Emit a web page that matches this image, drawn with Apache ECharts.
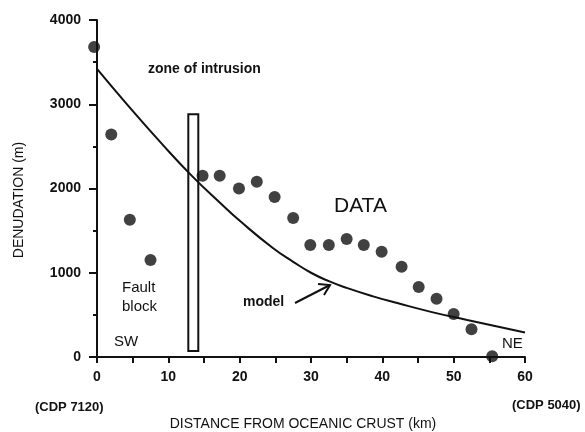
<!DOCTYPE html>
<html>
<head>
<meta charset="utf-8">
<script src="https://cdn.jsdelivr.net/npm/echarts@6/dist/echarts.min.js"></script>
<style>
  html, body { margin: 0; padding: 0; background: #fff; }
  #chart { width: 585px; height: 432px; }
</style>
</head>
<body>
<div id="chart"></div>
<script>
  // measured points (distance km, denudation m)
  var dataX = [-0.4, 2.0, 4.6, 7.5, 14.8, 17.2, 19.9, 22.4, 24.9, 27.5, 29.9, 32.5, 35.0, 37.4, 39.9, 42.7, 45.1, 47.6, 50.0, 52.5, 55.4];
  var dataY = [3680, 2640, 1630, 1150, 2150, 2150, 2000, 2080, 1900, 1650, 1330, 1330, 1400, 1330, 1250, 1070, 830, 690, 510, 330, 10];

  // model curve
  var modelX = [0, 4.3, 9.1, 13.3, 17.5, 20.1, 24.7, 27.5, 30, 32.5, 35, 38.7, 42.1, 47.1, 51.9, 60];
  var modelY = [3420, 2990, 2530, 2150, 1810, 1610, 1290, 1130, 1000, 900, 820, 720, 640, 530, 440, 290];

  // zone of intrusion box: x from, x to, y from, y to
  var intrusionBox = [12.8, 14.2, 70, 2880];

  var xTicks = [0, 10, 20, 30, 40, 50, 60];
  var yTicks = [0, 1000, 2000, 3000, 4000];

  var font = "'Liberation Sans', Arial, Helvetica, sans-serif";

  var points = dataX.map(function (x, i) { return [x, dataY[i]]; });
  var model = modelX.map(function (x, i) { return [x, modelY[i]]; });

  var myChart = echarts.init(document.getElementById('chart'), null, { renderer: 'canvas' });

  var option = {
      backgroundColor: '#fff',
      animation: false,
      grid: {
          left: 97,
          right: 60,
          top: 20,
          bottom: 75,
          outerBoundsMode: 'none'
      },
      xAxis: {
          type: 'value',
          min: xTicks[0],
          max: xTicks[xTicks.length - 1],
          interval: 10,
          axisLine: { lineStyle: { color: '#111', width: 2 } },
          axisTick: { show: true, length: 6, lineStyle: { color: '#111', width: 2 } },
          minorTick: { show: true, splitNumber: 2, length: 6, lineStyle: { color: '#111', width: 2 } },
          splitLine: { show: false },
          axisLabel: {
              margin: 13,
              color: '#111',
              fontSize: 14,
              fontWeight: 'bold',
              fontFamily: font
          }
      },
      yAxis: {
          type: 'value',
          min: yTicks[0],
          max: yTicks[yTicks.length - 1],
          interval: 1000,
          axisLine: { lineStyle: { color: '#111', width: 2 } },
          axisTick: { show: true, length: 8, lineStyle: { color: '#111', width: 2 } },
          minorTick: { show: true, splitNumber: 2, length: 4, lineStyle: { color: '#111', width: 2 } },
          splitLine: { show: false },
          axisLabel: {
              margin: 16,
              color: '#111',
              fontSize: 14,
              fontWeight: 'bold',
              fontFamily: font,
              formatter: function (v) { return String(v); }
          }
      },
      series: [{
          name: 'model',
          type: 'line',
          data: model,
          smooth: 0.5,
          showSymbol: false,
          lineStyle: { color: '#111', width: 2 },
          z: 2,
          markArea: {
              silent: true,
              itemStyle: { color: 'rgba(0,0,0,0)', borderColor: '#111', borderWidth: 2 },
              data: [[
                  { coord: [intrusionBox[0], intrusionBox[2]] },
                  { coord: [intrusionBox[1], intrusionBox[3]] }
              ]]
          }
      }, {
          name: 'DATA',
          type: 'scatter',
          data: points,
          symbol: 'circle',
          symbolSize: 12,
          clip: false,
          itemStyle: { color: '#111' },
          z: 3
      }],
      graphic: [
          { type: 'text', left: 148, top: 62, style: { text: 'zone of intrusion', font: 'bold 14px ' + font, fill: '#111' } },
          { type: 'text', left: 334, top: 196, style: { text: 'DATA', font: '21px ' + font, fill: '#111' } },
          { type: 'text', left: 122, top: 280, style: { text: 'Fault', font: '15px ' + font, fill: '#111' } },
          { type: 'text', left: 122, top: 299, style: { text: 'block', font: '15px ' + font, fill: '#111' } },
          { type: 'text', left: 114, top: 334, style: { text: 'SW', font: '15px ' + font, fill: '#111' } },
          { type: 'text', left: 502, top: 336, style: { text: 'NE', font: '15px ' + font, fill: '#111' } },
          { type: 'text', left: 243, top: 295, style: { text: 'model', font: 'bold 14px ' + font, fill: '#111' } },
          { type: 'polyline', shape: { points: [[295, 303], [330, 285]] }, style: { stroke: '#111', lineWidth: 2, fill: null } },
          { type: 'polyline', shape: { points: [[318, 284], [330, 285], [324, 295]] }, style: { stroke: '#111', lineWidth: 2, fill: null } },
          { type: 'text', left: 35, top: 401, style: { text: '(CDP 7120)', font: 'bold 13px ' + font, fill: '#111' } },
          { type: 'text', left: 512, top: 399, style: { text: '(CDP 5040)', font: 'bold 13px ' + font, fill: '#111' } },
          { type: 'text', x: 303, y: 424, style: { text: 'DISTANCE FROM OCEANIC CRUST (km)', font: '14px ' + font, fill: '#111', align: 'center', verticalAlign: 'middle' } },
          { type: 'text', x: 19, y: 200, rotation: Math.PI / 2, style: { text: 'DENUDATION (m)', font: '14px ' + font, fill: '#111', align: 'center', verticalAlign: 'middle' } }
      ]
  };

  myChart.setOption(option);
</script>
</body>
</html>
